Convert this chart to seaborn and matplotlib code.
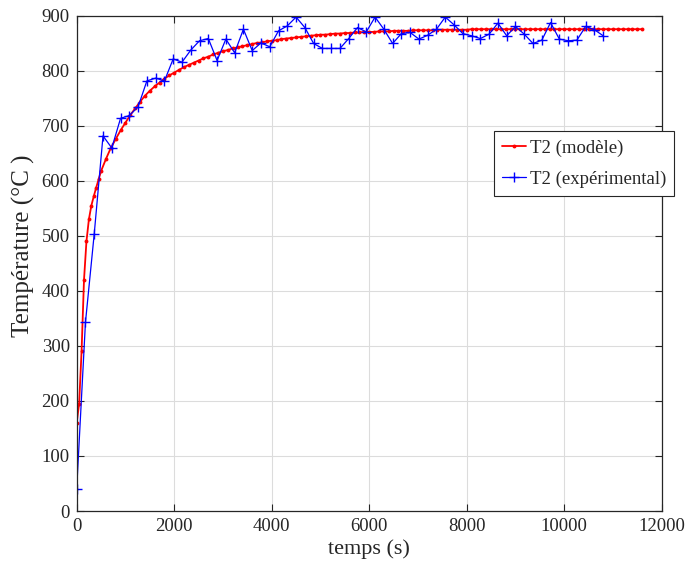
import numpy as np
import pandas as pd
import matplotlib
matplotlib.use("Agg")
import matplotlib.pyplot as plt
import seaborn as sns

# ---- data ----
exp_time = list(range(0, 10801, 180))
exp_temp = [40, 343, 504, 682, 660, 714, 719, 735, 782, 787,
            782, 822, 816, 838, 855, 859, 819, 858, 833, 876,
            837, 851, 844, 873, 882, 898, 879, 850, 841, 841,
            841, 859, 879, 871, 898, 876, 850, 868, 870, 858,
            865, 876, 898, 884, 868, 864, 859, 867, 887, 864,
            881, 867, 850, 856, 888, 858, 855, 856, 881, 875,
            864]

mod_time = list(range(0, 500, 50)) + list(range(500, 11601, 100))
mod_temp = [160, 195, 290, 420, 490, 530, 555, 572, 588, 603,
            618, 640, 660, 676, 692, 706, 720, 732, 744, 755,
            764, 772, 779, 786, 792, 797, 802, 807, 811, 815,
            819, 823, 826, 830, 833, 836, 838, 841, 843, 845,
            847, 849, 851, 852, 854, 855, 856, 858, 859, 860,
            861, 862, 863, 864, 865, 866, 866, 867, 868, 868,
            869, 869, 870, 870, 871, 871, 871, 872, 872, 872,
            873, 873, 873, 873, 874, 874, 874, 874, 874, 875,
            875, 875, 875, 875, 875, 875, 876, 876, 876, 876,
            876, 876, 876, 876, 876, 876, 876, 876, 876, 876,
            876, 876, 876, 876, 876, 876, 876, 876, 876, 876,
            876, 876, 876, 876, 876, 876, 876, 876, 876, 876,
            876, 876]
mod_temp = mod_temp[:len(mod_time)] + [876] * max(0, len(mod_time) - len(mod_temp))

x_ticks = [0, 2000, 4000, 6000, 8000, 10000, 12000]
y_ticks = [0, 100, 200, 300, 400, 500, 600, 700, 800, 900]
labels = ["T2 (modèle)", "T2 (expérimental)"]

# ---- style ----
sns.set_theme(style="white")
plt.rcParams["font.family"] = ["Liberation Serif", "DejaVu Serif"]

fig = plt.figure(figsize=(6.89, 5.73), dpi=100)
ax = fig.add_axes([0.1113, 0.1082, 0.8491, 0.8639])

df_mod = pd.DataFrame({"t": mod_time, "T": mod_temp})
df_exp = pd.DataFrame({"t": exp_time, "T": exp_temp})

sns.lineplot(data=df_mod, x="t", y="T", ax=ax, color="#ff0000", lw=1.3,
             marker="o", markersize=2.8, markeredgewidth=0,
             markerfacecolor="#ff0000", label=labels[0])
sns.lineplot(data=df_exp, x="t", y="T", ax=ax, color="#0000ff", lw=0.9,
             marker="+", markersize=7.5, markeredgewidth=1.0,
             markeredgecolor="#0000ff", label=labels[1])

ax.set_xlim(0, 12000)
ax.set_ylim(0, 900)
ax.set_xticks(x_ticks)
ax.set_yticks(y_ticks)
ax.set_xticklabels([str(v) for v in x_ticks], fontsize=13.5, color="#262626")
ax.set_yticklabels([str(v) for v in y_ticks], fontsize=13.5, color="#262626")
ax.grid(True, color="#dcdcdc", lw=0.8)
ax.tick_params(direction="in", length=5, width=0.8, colors="#262626",
               top=True, right=True, bottom=True, left=True, pad=5)
for s in ax.spines.values():
    s.set_color("#262626")
    s.set_linewidth(0.9)

ax.set_xlabel("temps (s)", fontsize=16, color="#262626", labelpad=3)
ax.set_ylabel("Température (°C )", fontsize=18, color="#262626")
ax.yaxis.set_label_coords(-0.072, 0.535)

leg = ax.legend(loc="upper left", bbox_to_anchor=(494 / 689, 1 - 131 / 573),
                bbox_transform=fig.transFigure, fontsize=13.5, frameon=True,
                fancybox=False, edgecolor="#262626", framealpha=1,
                handlelength=1.25, handletextpad=0.2, borderpad=0.45,
                labelspacing=0.72, borderaxespad=0)
leg.get_frame().set_linewidth(0.8)
for t in leg.get_texts():
    t.set_color("#262626")

fig.savefig("out.png", dpi=100)
